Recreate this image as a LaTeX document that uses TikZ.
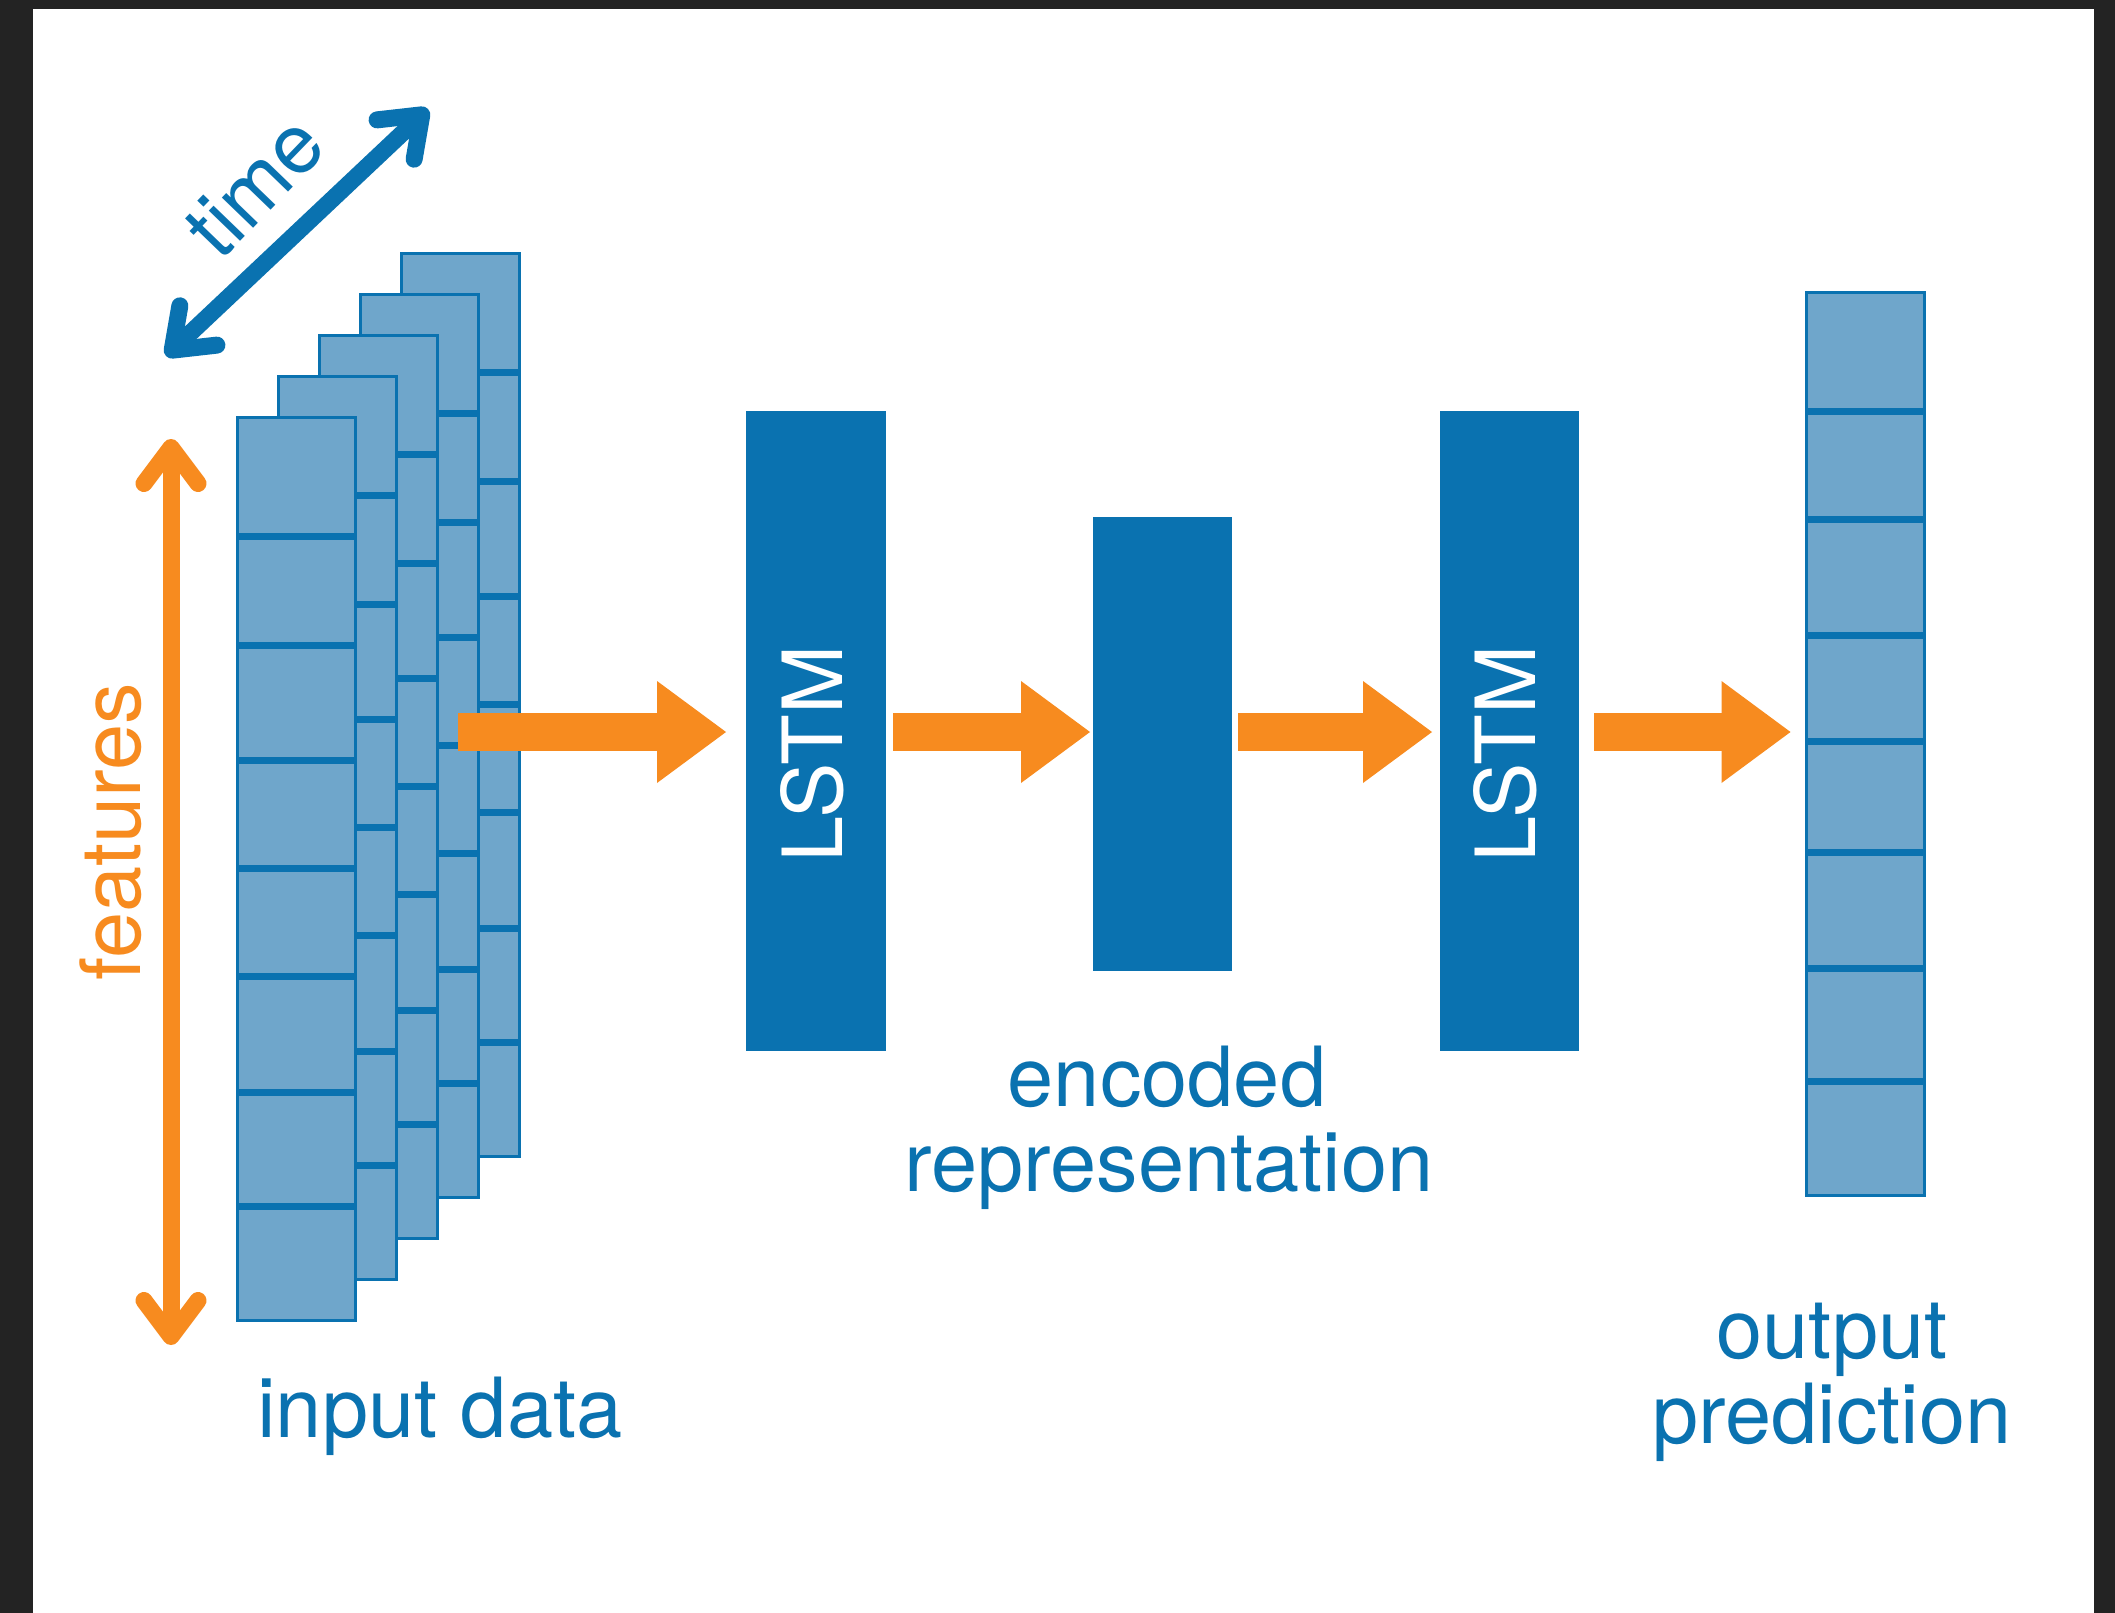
\documentclass[tikz,border=0pt]{standalone}
\usepackage{fontspec}
\setmainfont{TeX Gyre Heros}
\usetikzlibrary{arrows.meta,calc}
\definecolor{dblue}{HTML}{0A72B0}
\definecolor{lblue}{HTML}{6FA6CB}
\definecolor{orng}{HTML}{F78B1F}
\definecolor{framegray}{HTML}{232323}
\begin{document}
\begin{tikzpicture}[x=1pt,y=-1pt,
  bigfont/.style={font=\fontsize{83}{85}\selectfont},
  lbl/.style={bigfont, text=dblue, inner sep=0pt, anchor=base},
  vec/.style={draw=dblue, line width=3pt, fill=lblue, minimum width=118pt,
    minimum height=903pt, inner sep=0pt, outer sep=0pt, anchor=north west},
  divider/.style={draw=dblue, line width=7pt},
  lstmbox/.style={fill=dblue, inner sep=0pt, outer sep=0pt, anchor=north west},
  lstmtext/.style={bigfont, text=white, rotate=90, inner sep=0pt},
  flow/.style={draw=orng, line width=38pt,
    -{Triangle[length=69pt, width=102pt, line width=0pt]}},
  axisarrow/.style={line width=17pt, line cap=round,
    {Straight Barb[length=36pt, width=54pt, round]}-{Straight Barb[length=36pt, width=54pt, round]}}
]
\useasboundingbox (0,0) rectangle (2115,1613);
\fill[framegray] (0,0) rectangle (2115,1613);
\fill[white] (33,9) rectangle (2094,1613);

% stacked input frames (back to front)
\foreach \k in {4,3,2,1,0} {
  \node[vec] (in\k) at ({237.5+41*\k},{417.5-41*\k}) {};
  \foreach \o in {118.5,227.5,342.5,450.5,558.5,674.5,788.5}
    \draw[divider] ($(in\k.north west)+(0,\o)$) -- ($(in\k.north east)+(0,\o)$);
}

% LSTM and encoded boxes
\node[lstmbox, minimum width=140pt, minimum height=640pt] (lstm1) at (746,411) {};
\node[lstmbox, minimum width=139pt, minimum height=454pt] (enc) at (1093,517) {};
\node[lstmbox, minimum width=139pt, minimum height=640pt] (lstm2) at (1440,411) {};
\node[lstmtext] (lstm1t) at ($(lstm1.center)+(-4,23)$) {LSTM};
\node[lstmtext] (lstm2t) at ($(lstm2.center)+(-4,23)$) {LSTM};

% output vector
\node[vec] (out) at (1806.5,292.5) {};
\foreach \o in {118.5,226.5,342.5,448.5,559.5,675.5,788.5}
  \draw[divider] ($(out.north west)+(0,\o)$) -- ($(out.north east)+(0,\o)$);

% flow arrows
\coordinate (a1s) at (458,732);
\draw[flow, shorten >=20pt] (a1s) -- (lstm1.west |- a1s);
\draw[flow, shorten <=7pt, shorten >=3pt] (lstm1.east |- a1s) -- (enc.west |- a1s);
\draw[flow, shorten <=6pt, shorten >=8pt] (enc.east |- a1s) -- (lstm2.west |- a1s);
\draw[flow, shorten <=15pt, shorten >=16pt] (lstm2.east |- a1s) -- (out.west |- a1s);

% axis arrows
\coordinate (ftop) at (171,439);
\coordinate (fbot) at (171,1345);
\draw[axisarrow, draw=orng] (ftop) -- (fbot);
\coordinate (tlow) at (166,356);
\coordinate (thigh) at (428,109);
\draw[axisarrow, draw=dblue] (tlow) -- (thigh);

% labels
\node[bigfont, text=orng, rotate=90, inner sep=0pt] (feat) at (111,832) {features};
\node[bigfont, text=dblue, rotate=46, inner sep=0pt] (time) at (254,186) {time};
\node[lbl] (inlbl) at (440,1437) {input data};
\node[lbl] (enc1) at (1167,1106) {encoded};
\node[lbl] (enc2) at (1169,1191) {representation};
\node[lbl] (out1) at (1832,1358) {output};
\node[lbl] (out2) at (1832,1443) {prediction};
\end{tikzpicture}
\end{document}
